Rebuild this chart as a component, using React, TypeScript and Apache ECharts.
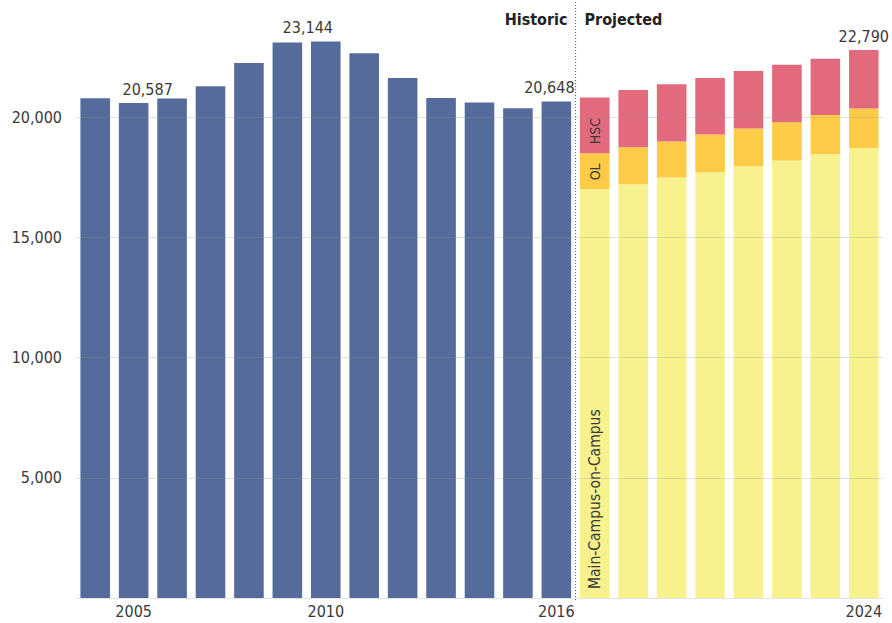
import React, { useEffect, useRef } from "react";
import * as echarts from "echarts";

// ---- Data ----
const years = [
  "2004", "2005", "2006", "2007", "2008", "2009", "2010", "2011", "2012", "2013", "2014",
  "2015", "2016", "2017", "2018", "2019", "2020", "2021", "2022", "2023", "2024",
];
const historic = [20790, 20587, 20780, 21290, 22250, 23110, 23144, 22655, 21627, 20793, 20614, 20376, 20648];
const mainCampus = [17000, 17210, 17490, 17710, 17960, 18200, 18460, 18720];
const online = [1500, 1540, 1500, 1570, 1570, 1590, 1625, 1645];
const hsc = [2320, 2380, 2375, 2350, 2390, 2390, 2345, 2425];
const shownYears = ["2005", "2010", "2016", "2024"];
const labelledYears = ["2005", "2010", "2016", "2024"];
const segmentNames = ["Main-Campus-on-Campus", "OL", "HSC"];
const periodTitles = ["Historic", "Projected"];

// ---- Styles ----
const FONT = "'DejaVu Sans Condensed', 'Liberation Sans Narrow', sans-serif";
const NAVY = "#546b9c";
const YELLOW = "#f7f28d";
const ORANGE = "#fdcb47";
const PINK = "#e16b7c";
const TEXT = "#3a3a3a";
const labelOffsets: Record<string, [number, number]> = {
  "2005": [14, 0],
  "2010": [-18, 0],
  "2016": [-7, 0],
  "2024": [0, 0],
};

const fmt = (v: number) => v.toLocaleString("en-US");

export default function App() {
  const ref = useRef<HTMLDivElement>(null);

  useEffect(() => {
    if (!ref.current) return;
    const chart = echarts.init(ref.current, null, { renderer: "svg" });
    const nHist = historic.length;

    const valueLabel = (year: string) => ({
      show: true,
      position: "top" as const,
      distance: 6,
      offset: labelOffsets[year] || [0, 0],
      fontSize: 16,
      color: TEXT,
      fontFamily: FONT,
      formatter: () => {
        const i = years.indexOf(year);
        if (i < nHist) return fmt(historic[i]);
        const j = i - nHist;
        return fmt(mainCampus[j] + online[j] + hsc[j]);
      },
    });

    const histData = years.map((y, i) => {
      if (i >= nHist) return null;
      if (labelledYears.includes(y)) return { value: historic[i], label: valueLabel(y) };
      return historic[i];
    });

    const segLabel = (name: string, size: number) => ({
      show: true,
      position: "insideBottom" as const,
      rotate: 90,
      align: "left" as const,
      verticalAlign: "middle" as const,
      distance: 7,
      offset: [2, 0],
      fontSize: size,
      color: TEXT,
      fontFamily: FONT,
      formatter: name,
    });

    const projData = (arr: number[], name: string, size: number, isTop: boolean) =>
      years.map((y, i) => {
        if (i < nHist) return null;
        const j = i - nHist;
        const item: any = { value: arr[j] };
        if (j === 0) item.label = segLabel(name, size);
        if (isTop && labelledYears.includes(y)) item.label = valueLabel(y);
        return item;
      });

    chart.setOption({
      animation: false,
      textStyle: { fontFamily: FONT },
      grid: { left: 76, right: 9, top: 21, bottom: 25, containLabel: false },
      xAxis: {
        type: "category",
        data: years,
        axisLine: { show: true, lineStyle: { color: "#e2e2e2" } },
        axisTick: { show: false },
        axisLabel: {
          interval: 0,
          margin: 5,
          fontSize: 16,
          color: TEXT,
          fontFamily: FONT,
          formatter: (v: string) => (shownYears.includes(v) ? v : ""),
        },
      },
      yAxis: {
        type: "value",
        min: 0,
        max: 24000,
        interval: 5000,
        z: 5,
        axisLine: { show: false },
        axisTick: { show: false },
        axisLabel: {
          showMaxLabel: false,
          showMinLabel: false,
          margin: 14,
          fontSize: 16,
          color: TEXT,
          fontFamily: FONT,
          formatter: (v: number) => fmt(v),
        },
        splitLine: {
          show: true,
          showMaxLine: false,
          showMinLine: false,
          lineStyle: { color: "rgba(150,150,150,0.28)", width: 1 },
        },
      },
      series: [
        {
          name: "Historic",
          type: "bar",
          stack: "enroll",
          barCategoryGap: "23%",
          itemStyle: { color: NAVY },
          data: histData,
        },
        {
          name: segmentNames[0],
          type: "bar",
          stack: "enroll",
          itemStyle: { color: YELLOW },
          data: projData(mainCampus, segmentNames[0], 15.5, false),
        },
        {
          name: segmentNames[1],
          type: "bar",
          stack: "enroll",
          itemStyle: { color: ORANGE },
          data: projData(online, segmentNames[1], 14, false),
        },
        {
          name: segmentNames[2],
          type: "bar",
          stack: "enroll",
          itemStyle: { color: PINK },
          data: projData(hsc, segmentNames[2], 14, true),
        },
      ],
    });

    const xa = chart.convertToPixel({ xAxisIndex: 0 }, years[nHist - 1]) as number;
    const xb = chart.convertToPixel({ xAxisIndex: 0 }, years[nHist]) as number;
    const divX = (xa + xb) / 2;
    const y0 = chart.convertToPixel({ yAxisIndex: 0 }, 0) as number;

    const titleStyle = {
      fontFamily: FONT,
      fontSize: 16,
      fontWeight: "bold",
      fill: "#222",
      verticalAlign: "middle",
    };

    chart.setOption({
      graphic: [
        {
          type: "line",
          shape: { x1: divX, y1: 2, x2: divX, y2: y0 + 3 },
          style: { stroke: "#555", lineWidth: 1, lineDash: [1, 2] },
          z: 10,
        },
        {
          type: "text",
          x: divX - 8,
          y: 19,
          style: { ...titleStyle, text: periodTitles[0], align: "right" },
          z: 10,
        },
        {
          type: "text",
          x: divX + 9,
          y: 19,
          style: { ...titleStyle, text: periodTitles[1], align: "left" },
          z: 10,
        },
      ],
    });

    return () => chart.dispose();
  }, []);

  return (
    <div
      ref={ref}
      style={{ position: "absolute", left: 0, top: 0, width: 892, height: 623 }}
    />
  );
}
